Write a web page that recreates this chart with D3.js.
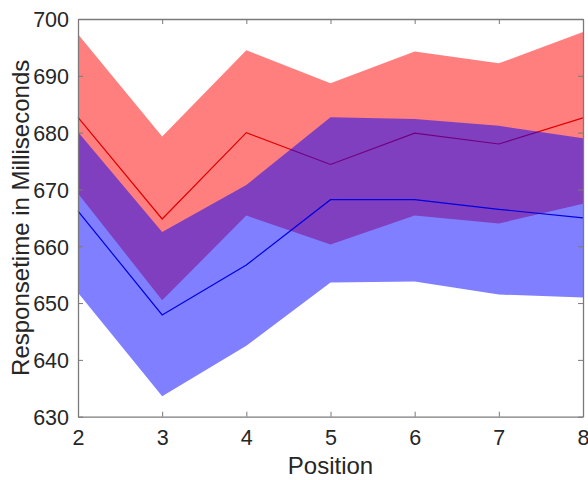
<!DOCTYPE html>
<html>
<head>
<meta charset="utf-8">
<script src="https://cdn.jsdelivr.net/npm/d3@7"></script>
<style>
  html, body { margin: 0; padding: 0; background: #ffffff; }
  svg { display: block; }
  text { font-family: "Liberation Sans", Arial, Helvetica, sans-serif; }
</style>
</head>
<body>
<svg id="chart" width="588" height="480"></svg>
<script>
// ---- data ----
const positions = [2, 3, 4, 5, 6, 7, 8];
const redMean  = [682.7, 664.8, 680.0, 674.4, 679.9, 678.0, 682.6];
const redUpper = [697.3, 679.3, 694.5, 688.7, 694.3, 692.2, 697.7];
const redLower = [669.3, 650.5, 665.4, 660.3, 665.4, 664.0, 667.5];
const blueMean  = [666.2, 647.9, 656.7, 668.2, 668.2, 666.5, 665.0];
const blueUpper = [680.1, 662.5, 670.8, 682.7, 682.4, 681.2, 679.0];
const blueLower = [651.8, 633.6, 642.5, 653.6, 653.8, 651.5, 651.0];
const xTicks = [2, 3, 4, 5, 6, 7, 8];
const yTicks = [630, 640, 650, 660, 670, 680, 690, 700];
const xLabel = "Position";
const yLabel = "Responsetime in Milliseconds";

// ---- layout ----
const svg = d3.select("#chart");
const L = 78, R = 583, T = 19, B = 416.7;
const x = d3.scaleLinear().domain([2, 8]).range([L, R]);
const y = d3.scaleLinear().domain([630, 700]).range([B, T]);

const area = (up, lo) => d3.area()
  .x((d, i) => x(positions[i]))
  .y0((d, i) => y(lo[i]))
  .y1((d, i) => y(up[i]))(positions);
const line = vals => d3.line()
  .x((d, i) => x(positions[i]))
  .y((d, i) => y(vals[i]))(positions);

// red band + line, then blue band + line
svg.append("path").attr("d", area(redUpper, redLower))
  .attr("fill", "#ff0000").attr("fill-opacity", 0.5);
svg.append("path").attr("d", line(redMean))
  .attr("fill", "none").attr("stroke", "#e00000").attr("stroke-width", 1.2);
svg.append("path").attr("d", area(blueUpper, blueLower))
  .attr("fill", "#0000ff").attr("fill-opacity", 0.5);
svg.append("path").attr("d", line(blueMean))
  .attr("fill", "none").attr("stroke", "#0000e0").attr("stroke-width", 1.2);

// ---- axes (box with inward ticks) ----
const axisColor = "#7a7a7a";
const tickLen = 5;
const gx = svg.append("g").attr("transform", `translate(0,${B})`)
  .call(d3.axisBottom(x).tickValues(xTicks).tickFormat(d3.format("d"))
    .tickSizeInner(-tickLen).tickSizeOuter(0).tickPadding(13));
const gxt = svg.append("g").attr("transform", `translate(0,${T})`)
  .call(d3.axisTop(x).tickValues(xTicks).tickFormat("")
    .tickSizeInner(-tickLen).tickSizeOuter(0));
const gy = svg.append("g").attr("transform", `translate(${L},0)`)
  .call(d3.axisLeft(y).tickValues(yTicks).tickFormat(d3.format("d"))
    .tickSizeInner(-tickLen).tickSizeOuter(0).tickPadding(9));
const gyr = svg.append("g").attr("transform", `translate(${R},0)`)
  .call(d3.axisRight(y).tickValues(yTicks).tickFormat("")
    .tickSizeInner(-tickLen).tickSizeOuter(0));

[gx, gxt, gy, gyr].forEach(g => {
  g.select(".domain").attr("stroke", axisColor).attr("stroke-width", 1.3);
  g.selectAll(".tick line").attr("stroke", axisColor);
  g.selectAll(".tick text").attr("fill", "#262626")
    .style("font-size", "21.5px");
});
gx.selectAll(".tick text").attr("dy", "0.71em");
gy.selectAll(".tick text").attr("dy", "0.36em");

// ---- labels ----
svg.append("text").attr("x", (L + R) / 2).attr("y", 474)
  .attr("text-anchor", "middle").attr("fill", "#262626")
  .style("font-size", "24px").text(xLabel);
svg.append("text")
  .attr("transform", `translate(29,${(T + B) / 2}) rotate(-90)`)
  .attr("text-anchor", "middle").attr("fill", "#262626")
  .style("font-size", "24px").text(yLabel);
</script>
</body>
</html>
